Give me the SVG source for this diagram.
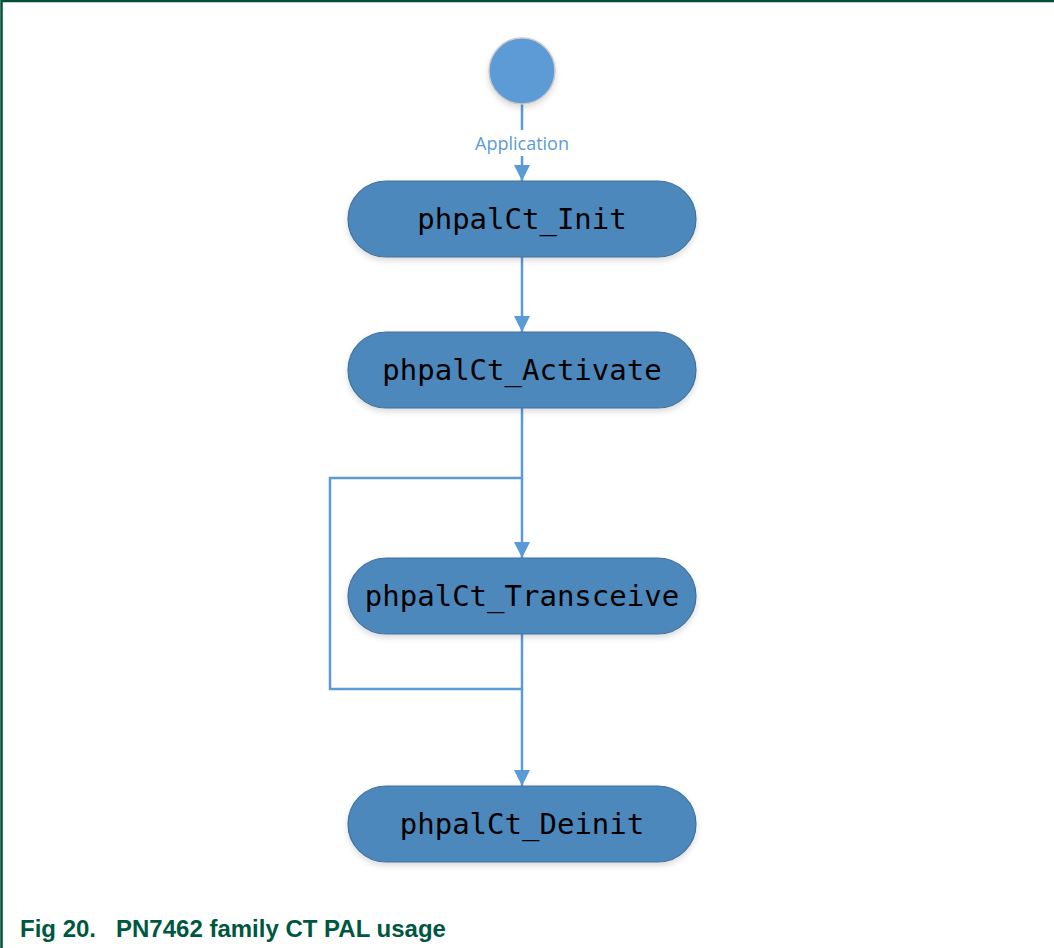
<svg xmlns="http://www.w3.org/2000/svg" width="1054" height="948" viewBox="0 0 1054 948">
<style>
.node{fill:#4e88bc;stroke:#41719c;stroke-width:1.2}
.lbl{font-family:"DejaVu Sans Mono","Liberation Mono",monospace;font-size:29px;fill:#000;text-anchor:middle}
.conn{stroke:#5b9bd5;stroke-width:2.5;fill:none}
</style>
<defs>
<marker id="arr" markerWidth="16" markerHeight="16" refX="16" refY="8" orient="auto" markerUnits="userSpaceOnUse">
<path d="M0,0 L16,8 L0,16 Z" fill="#5b9bd5"/>
</marker>
<filter id="sh" x="-10%" y="-20%" width="120%" height="150%">
<feGaussianBlur in="SourceAlpha" stdDeviation="3"/>
<feOffset dy="3"/>
<feComponentTransfer><feFuncA type="linear" slope="0.15"/></feComponentTransfer>
<feMerge><feMergeNode/><feMergeNode in="SourceGraphic"/></feMerge>
</filter>
</defs>
<rect width="1054" height="948" fill="#fff"/>
<path d="M1.5,948 V1 H1054" fill="none" stroke="#004f3b" stroke-width="2.5"/>
<g id="connectors">
<line class="conn" x1="522" y1="104" x2="522" y2="130"/>
<line class="conn" x1="522" y1="156" x2="522" y2="181" marker-end="url(#arr)"/>
<text x="522" y="150" font-family="Open Sans, Liberation Sans, sans-serif" font-size="18" fill="#5b9bd5" text-anchor="middle">Application</text>
<line class="conn" x1="522" y1="257" x2="522" y2="332" marker-end="url(#arr)"/>
<line class="conn" x1="522" y1="408" x2="522" y2="558" marker-end="url(#arr)"/>
<polyline class="conn" points="522,478 330,478 330,689 522,689"/>
<line class="conn" x1="522" y1="634" x2="522" y2="786" marker-end="url(#arr)"/>
</g>
<g id="start">
<circle cx="522" cy="71" r="33" fill="#5b9bd5" stroke="#c9c9c9" stroke-width="1.5" filter="url(#sh)"/>
</g>
<g id="init">
<rect class="node" x="348" y="181" width="348" height="76" rx="38" filter="url(#sh)"/>
<text class="lbl" x="522" y="229">phpalCt_Init</text>
</g>
<g id="activate">
<rect class="node" x="348" y="332" width="348" height="76" rx="38" filter="url(#sh)"/>
<text class="lbl" x="522" y="380">phpalCt_Activate</text>
</g>
<g id="transceive">
<rect class="node" x="348" y="558" width="348" height="76" rx="38" filter="url(#sh)"/>
<text class="lbl" x="522" y="606">phpalCt_Transceive</text>
</g>
<g id="deinit">
<rect class="node" x="348" y="786" width="348" height="76" rx="38" filter="url(#sh)"/>
<text class="lbl" x="522" y="834">phpalCt_Deinit</text>
</g>
<text x="20" y="937" font-family="Liberation Sans, Arial, sans-serif" font-weight="bold" font-size="24" fill="#00573f" xml:space="preserve">Fig 20.   PN7462 family CT PAL usage</text>
</svg>
